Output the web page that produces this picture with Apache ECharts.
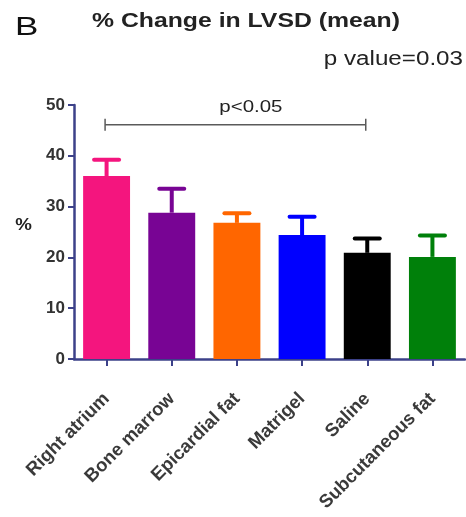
<!DOCTYPE html>
<html><head><meta charset="utf-8">
<script src="https://cdn.jsdelivr.net/npm/echarts@6/dist/echarts.min.js"></script>
<style>html,body{margin:0;padding:0;background:#fff}#c{width:466px;height:517px}</style>
</head><body><div id="c"></div>
<script>
var categories = ['Right atrium','Bone marrow','Epicardial fat','Matrigel','Saline','Subcutaneous fat'];
var means = [36.0, 28.8, 26.8, 24.4, 20.9, 20.1];
var errorTops = [39.2, 33.5, 28.7, 28.0, 23.7, 24.3];
var colors = ['#F4157E','#780494','#FF6600','#0000FF','#000000','#00800A'];
var yTicks = [0, 50, 10];
var bracket = {from: 0, to: 4, value: 46.1, label: 'p<0.05'};

var axisColor = '#3C4189';
var FF = 'Liberation Sans';
var chart = echarts.init(document.getElementById('c'), null, {renderer:'canvas'});
chart.setOption({
  animation: false,
  graphic: [
    {type:'text', x: 15, y: 28.5, scaleX: 1.4, style:{text:'B', font:'normal 25px "Liberation Sans"', fill:'#111', align:'left', verticalAlign:'middle'}},
    {type:'text', x: 92, y: 21.5, scaleX: 1.18, style:{text:'% Change in LVSD (mean)', font:'bold 21px "Liberation Sans"', fill:'#222', align:'left', verticalAlign:'middle'}},
    {type:'text', x: 463, y: 60, scaleX: 1.24, style:{text:'p value=0.03', font:'normal 19.5px "Liberation Sans"', fill:'#222', align:'right', verticalAlign:'middle'}},
    {type:'text', x: 23.5, y: 225, scaleX: 1.1, style:{text:'%', font:'bold 17px "Liberation Sans"', fill:'#222', align:'center', verticalAlign:'middle'}}
  ],
  grid: {left: 74, right: 1, top: 105, bottom: 158, containLabel: false},
  xAxis: {
    type: 'category', data: categories,
    axisLine: {show: true, lineStyle: {color: axisColor, width: 2.5}},
    axisTick: {show: true, alignWithLabel: true, length: 7, lineStyle: {color: axisColor, width: 2}},
    axisLabel: {rotate: 45, margin: 37, interval: 0, fontFamily: FF, fontSize: 18.5, fontWeight: 'bold', color: '#3a3a3a'}
  },
  yAxis: {
    type: 'value', min: yTicks[0], max: yTicks[1], interval: yTicks[2],
    splitLine: {show: false},
    axisLine: {show: true, lineStyle: {color: axisColor, width: 2.5}},
    axisTick: {show: true, length: 6, lineStyle: {color: axisColor, width: 2}},
    axisLabel: {margin: 9, fontFamily: FF, fontSize: 17, fontWeight: 'bold', color: '#333'}
  },
  series: [
    {
      type: 'bar', barWidth: '72%',
      data: means.map(function(v,i){ return {value: v, itemStyle: {color: colors[i]}}; }),
      z: 2
    },
    {
      type: 'custom', z: 1,
      data: means.map(function(v,i){ return [i, v, errorTops[i]]; }),
      renderItem: function(params, api){
        var i = api.value(0);
        var p0 = api.coord([i, api.value(1)]);
        var p1 = api.coord([i, api.value(2)]);
        var col = colors[params.dataIndex];
        var hw = 12.5;
        return {type:'group', children:[
          {type:'line', shape:{x1:p0[0], y1:p0[1], x2:p1[0], y2:p1[1]}, style:{stroke:col, lineWidth:4}},
          {type:'line', shape:{x1:p1[0]-hw, y1:p1[1], x2:p1[0]+hw, y2:p1[1]}, style:{stroke:col, lineWidth:4, lineCap:'round'}}
        ]};
      }
    },
    {
      type: 'custom', z: 3,
      data: [[bracket.from, bracket.to, bracket.value]],
      renderItem: function(params, api){
        var a = api.coord([api.value(0), api.value(2)]);
        var b = api.coord([api.value(1), api.value(2)]);
        var c = '#5a5a5a';
        return {type:'group', children:[
          {type:'line', shape:{x1:a[0]-1.5, y1:a[1], x2:b[0]-1.5, y2:b[1]}, style:{stroke:c, lineWidth:1.5}},
          {type:'line', shape:{x1:a[0]-1.5, y1:a[1]-6, x2:a[0]-1.5, y2:a[1]+6}, style:{stroke:c, lineWidth:1.5}},
          {type:'line', shape:{x1:b[0]-1.5, y1:b[1]-6, x2:b[0]-1.5, y2:b[1]+6}, style:{stroke:c, lineWidth:1.5}},
          {type:'text', x:(a[0]+b[0])/2 + 14, y:a[1]-17, scaleX: 1.24, style:{text: bracket.label, font:'normal 16.5px "Liberation Sans"', fill:'#222', align:'center', verticalAlign:'middle'}}
        ]};
      }
    }
  ]
});
</script></body></html>
